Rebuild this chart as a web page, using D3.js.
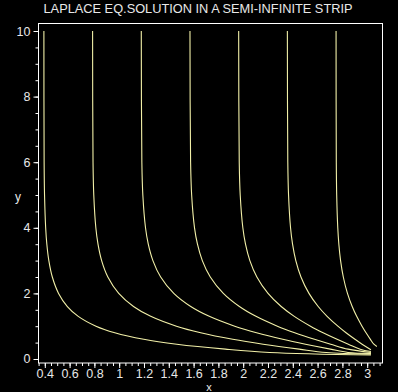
<!DOCTYPE html>
<html><head><meta charset="utf-8">
<script src="https://cdn.jsdelivr.net/npm/d3@7"></script>
<style>html,body{margin:0;padding:0;background:#000;}svg{display:block;}</style>
</head><body>
<script>
// Level curves of the solution (levels k/8); each curve as [x, y] points
const levels = ["1/8","2/8","3/8","4/8","5/8","6/8","7/8"];
const yLevels = [10, 6, 5, 4, 3.5, 3, 2.5, 2, 1.6, 1.3, 1.0, 0.8, 0.6, 0.45, 0.3, 0.2];
const curve1X = [0.3927,0.3946,0.3979,0.4070,0.4165,0.4326,0.4607,0.5110,0.5821,0.6697,0.8130,0.9646,1.1981,1.4645,1.8565,2.2133];
const curve2X = [0.7854,0.7889,0.7950,0.8116,0.8290,0.8583,0.9085,0.9963,1.1154,1.2541,1.4616,1.6572,1.9158,2.1606,2.4514,2.6695];
const curve3X = [1.1781,1.1827,1.1906,1.2122,1.2345,1.2718,1.3344,1.4403,1.5770,1.7262,1.9316,2.1075,2.3191,2.5023,2.7031,2.8455];
const curve4X = [1.5708,1.5758,1.5843,1.6074,1.6312,1.6703,1.7346,1.8398,1.9693,2.1029,2.2758,2.4154,2.5747,2.7056,2.8460];
const curve5X = [1.9635,1.9681,1.9759,1.9971,2.0186,2.0537,2.1103,2.2002,2.3064,2.4119,2.5427,2.6444,2.7571,2.8480,2.9434];
const curve6X = [2.3562,2.3597,2.3657,2.3818,2.3980,2.4242,2.4658,2.5304,2.6048,2.6766,2.7634,2.8294,2.9014,2.9588];
const curve7X = [2.7489,2.7508,2.7540,2.7627,2.7714,2.7853,2.8073,2.8409,2.8790,2.9152,2.9583,2.9907,3.0258,3.0536];
// end points near the corner (x, y)
const curveEnds = [[3.03,0.12],[3.03,0.15],[3.03,0.17],[3.03,0.20],[3.03,0.23],[3.03,0.28],[3.078,0.38]];
const xTicks = [0.4,0.6,0.8,1,1.2,1.4,1.6,1.8,2,2.2,2.4,2.6,2.8,3];
const yTicks = [0,2,4,6,8,10];
const title = "LAPLACE EQ.SOLUTION IN A SEMI-INFINITE STRIP";

const W = 398, H = 392;
const svg = d3.select("body").append("svg").attr("width", W).attr("height", H)
  .style("background", "#000");

const pL = 38.5, pR = 382.5, pT = 23.5, pB = 363;
const x = d3.scaleLinear().domain([0.3492, 3.1234]).range([pL, pR]);
const y = d3.scaleLinear().domain([-0.122, 10.229]).range([pB, pT]);

const fontFam = "'Liberation Sans', Arial, sans-serif";
const textCol = "#e8e8e8";

svg.append("text").attr("x", 198).attr("y", 12.5).attr("text-anchor", "middle")
  .attr("fill", textCol).attr("font-family", fontFam).attr("font-size", 13)
  .attr("textLength", 309).attr("lengthAdjust", "spacingAndGlyphs").text(title);

// axes
const xMinor = d3.range(0.35, 3.13, 0.05).map(v => +v.toFixed(2));
const yMinor = d3.range(0, 10.21, 0.5).map(v => +v.toFixed(2));

const gx = svg.append("g").attr("transform", `translate(0,${pB})`)
  .call(d3.axisBottom(x).tickValues(xMinor).tickSize(3).tickFormat(""));
const gx2 = svg.append("g").attr("transform", `translate(0,${pB})`)
  .call(d3.axisBottom(x).tickValues(xTicks).tickSize(5).tickPadding(1).tickFormat(d => d3.format("")(d)));
const gy = svg.append("g").attr("transform", `translate(${pL},0)`)
  .call(d3.axisLeft(y).tickValues(yMinor).tickSize(3).tickFormat(""));
const gy2 = svg.append("g").attr("transform", `translate(${pL},0)`)
  .call(d3.axisLeft(y).tickValues(yTicks).tickSize(5).tickPadding(3));
[gx, gx2, gy, gy2].forEach(g => {
  g.select(".domain").remove();
  g.selectAll("line").attr("stroke", "#fff");
  g.selectAll("text").attr("fill", textCol).attr("font-family", fontFam).attr("font-size", 12.5);
});

svg.append("rect").attr("x", pL).attr("y", pT).attr("width", pR - pL).attr("height", pB - pT)
  .attr("fill", "none").attr("stroke", "#fff").attr("stroke-width", 1);

svg.append("text").attr("x", 209).attr("y", 391).attr("text-anchor", "middle")
  .attr("fill", textCol).attr("font-family", fontFam).attr("font-size", 11).text("x");
svg.append("text").attr("x", 18).attr("y", 201).attr("text-anchor", "middle")
  .attr("fill", textCol).attr("font-family", fontFam).attr("font-size", 12).text("y");

const curvesX = [curve1X, curve2X, curve3X, curve4X, curve5X, curve6X, curve7X];
const line = d3.line().x(d => x(d[0])).y(d => y(d[1])).curve(d3.curveCatmullRom.alpha(0.5));
curvesX.forEach((cx, i) => {
  const pts = cx.map((v, j) => [v, yLevels[j]]);
  pts.push(curveEnds[i]);
  svg.append("path").datum(pts).attr("d", line)
    .attr("fill", "none").attr("stroke", "#f2f0a8").attr("stroke-width", 1.1);
});
</script>
</body></html>
